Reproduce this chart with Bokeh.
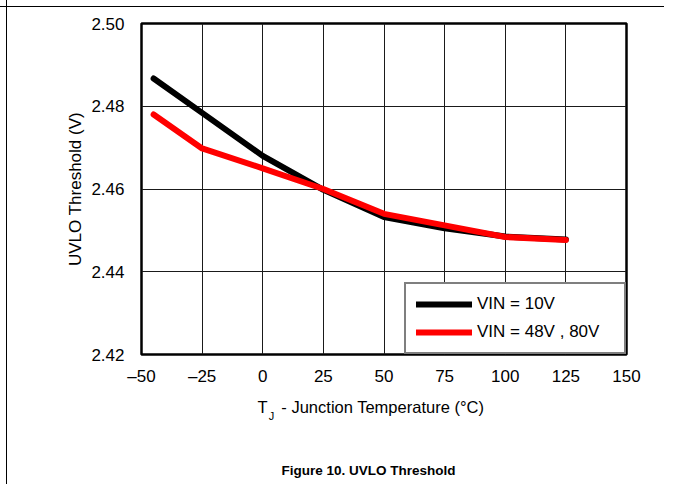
from bokeh.plotting import figure
from bokeh.models import FixedTicker, Legend, LegendItem, Range1d, LinearAxis
from bokeh.embed import file_html
from bokeh.resources import INLINE

# ---- data ----
temps = [-45, -25, 0, 25, 50, 75, 100, 125]
vin_10 = [2.4867, 2.4784, 2.4680, 2.4598, 2.4532, 2.4505, 2.4485, 2.4478]
vin_48_80 = [2.4780, 2.4698, 2.4650, 2.4600, 2.4540, 2.4512, 2.4484, 2.4477]

x_ticks = [-50, -25, 0, 25, 50, 75, 100, 125, 150]
x_tick_labels = ["–50", "–25", "0", "25", "50", "75", "100", "125", "150"]
y_ticks = [2.42, 2.44, 2.46, 2.48, 2.50]
y_tick_labels = ["2.42", "2.44", "2.46", "2.48", "2.50"]

series_names = ["VIN = 10V", "VIN = 48V , 80V"]
series_colors = ["#000000", "#ff0000"]

x_title_main = "T"
x_title_sub = "J"
x_title_rest = "- Junction Temperature (°C)"
caption = "Figure 10. UVLO Threshold"

# horizontal anchor positions (in x-axis units) for the title pieces
POS_T, POS_SUB, POS_REST, POS_CAPTION = -0.1, 3.6, 49.5, 43.6

FONT = "Liberation Sans"
FS = "17px"

p = figure(width=664, height=484, output_backend="svg", toolbar_location=None,
           x_range=Range1d(-50, 150), y_range=Range1d(2.42, 2.50),
           min_border_left=141, min_border_right=38,
           min_border_top=23, min_border_bottom=130)

# page rules of the datasheet (thin lines at top and left), over a white page
p.styles = {"background": "linear-gradient(#000,#000) 0 6px / 100% 1px no-repeat, "
                          "linear-gradient(#000,#000) 6px 0 / 1px 100% no-repeat #fff"}

p.outline_line_color = "black"
p.outline_line_width = 2.5
p.background_fill_color = "white"
p.border_fill_alpha = 0.0

for g in (p.xgrid, p.ygrid):
    g.grid_line_color = "#1a1a1a"
    g.grid_line_width = 1
p.xgrid.ticker = FixedTicker(ticks=x_ticks)
p.ygrid.ticker = FixedTicker(ticks=y_ticks)

p.xaxis.ticker = FixedTicker(ticks=x_ticks)
p.yaxis.ticker = FixedTicker(ticks=y_ticks)
p.xaxis.major_label_overrides = {t: l for t, l in zip(x_ticks, x_tick_labels)}
p.yaxis.major_label_overrides = {t: l for t, l in zip(y_ticks, y_tick_labels)}


def plain(ax, size=FS, standoff=14):
    ax.axis_line_color = None
    ax.major_tick_line_color = None
    ax.minor_tick_line_color = None
    ax.major_tick_in = 0
    ax.major_tick_out = 0
    ax.minor_tick_in = 0
    ax.minor_tick_out = 0
    ax.major_label_text_font = FONT
    ax.major_label_text_font_size = size
    ax.major_label_text_color = "black"
    ax.major_label_standoff = standoff


plain(p.xaxis, FS, 12)
plain(p.yaxis, FS, 17)

p.yaxis.axis_label = "UVLO Threshold (V)"
p.yaxis.axis_label_text_font = FONT
p.yaxis.axis_label_text_font_size = FS
p.yaxis.axis_label_text_font_style = "normal"
p.yaxis.axis_label_text_color = "black"
p.yaxis.axis_label_standoff = 3

# x-axis title: "T" + subscript "J" + rest, built from extra label-only axes
ax_title = LinearAxis(ticker=FixedTicker(ticks=[POS_T, POS_REST]),
                      major_label_overrides={POS_T: x_title_main, POS_REST: x_title_rest})
plain(ax_title, "16.5px", 9)
p.add_layout(ax_title, "below")

ax_sub = LinearAxis(ticker=FixedTicker(ticks=[POS_SUB]),
                    major_label_overrides={POS_SUB: x_title_sub})
plain(ax_sub, "11px", -9)
p.add_layout(ax_sub, "below")

ax_cap = LinearAxis(ticker=FixedTicker(ticks=[POS_CAPTION]),
                    major_label_overrides={POS_CAPTION: caption})
plain(ax_cap, "13.5px", 38)
ax_cap.major_label_text_font_style = "bold"
p.add_layout(ax_cap, "below")

r1 = p.line(temps, vin_10, line_color=series_colors[0], line_width=6,
            line_cap="round", line_join="round")
r2 = p.line(temps, vin_48_80, line_color=series_colors[1], line_width=6,
            line_cap="round", line_join="round")

legend = Legend(items=[LegendItem(label=series_names[0], renderers=[r1]),
                       LegendItem(label=series_names[1], renderers=[r2])],
                location="bottom_right")
legend.margin = 0
legend.padding = 10
legend.spacing = 8
legend.glyph_width = 56
legend.glyph_height = 18
legend.label_height = 18
legend.label_width = 137
legend.label_standoff = 5
legend.label_text_font = FONT
legend.label_text_font_size = FS
legend.label_text_color = "black"
legend.border_line_color = "black"
legend.border_line_width = 2.5
legend.background_fill_color = "white"
legend.background_fill_alpha = 1.0
p.add_layout(legend)

open("out.html", "w").write(file_html(p, INLINE))
